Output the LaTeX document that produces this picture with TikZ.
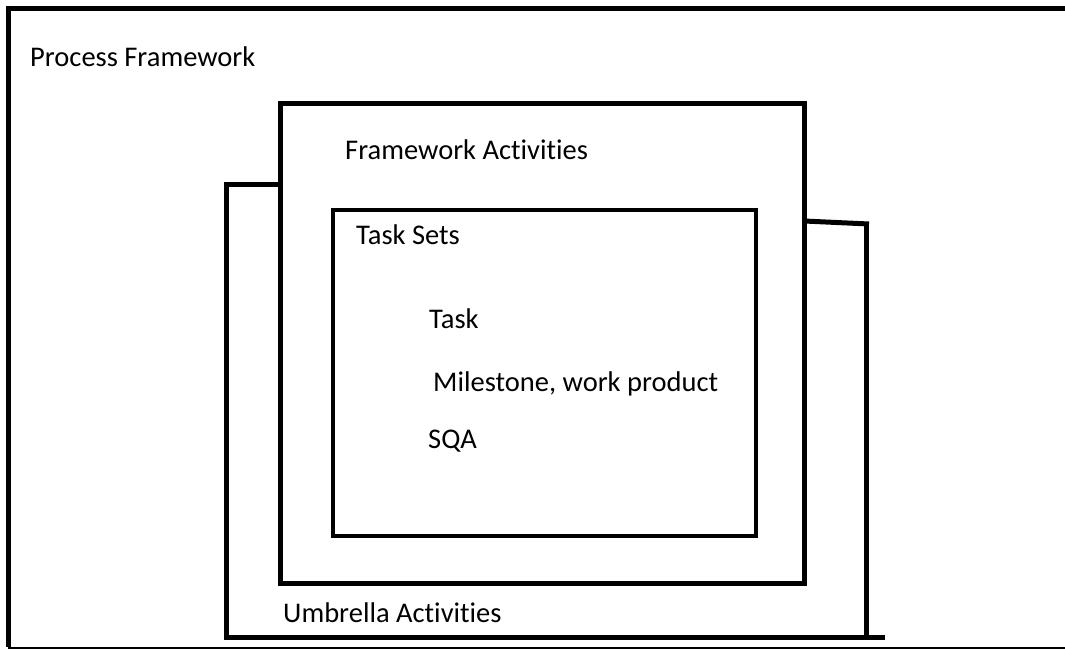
\documentclass[tikz,border=0pt]{standalone}
\usepackage{fontspec}
\setmainfont{Carlito}[Ligatures={NoCommon}]
\begin{document}
\begin{tikzpicture}[x=1pt,y=-1pt,
  thick line/.style={line width=5pt},
  boxed/.style={draw,line width=5pt,inner sep=0pt,outer sep=0pt,anchor=north west},
  lbl/.style={anchor=west,inner sep=0pt,font=\fontsize{28.5}{32}\selectfont}]
\useasboundingbox (0,0) rectangle (1065,650);
% outer frame
\coordinate (oTL) at (8.5,8.5);
\coordinate (oTR) at (1065,8.5);
\coordinate (oBL) at (8.5,648);
\coordinate (oBR) at (1065,648);
\draw[thick line] (oTR) -- (oTL) -- (8.5,647);
\draw[line width=1.5pt] (8,648) -- (oBR);
% framework activities box
\node[boxed,minimum width=524pt,minimum height=479pt] (fa) at (280,104) {};
% task sets box
\node[boxed,line width=4.5pt,minimum width=423pt,minimum height=326pt] (ts) at (333,210) {};
% umbrella bracket
\coordinate (uTL) at (224,184);
\coordinate (uL) at (226,184);
\coordinate (uBL) at (226,637);
\coordinate (uBR) at (885,637);
\coordinate (uR) at (866,225);
\coordinate (uRB) at (866,637);
\coordinate (uTR) at (869,224);
\coordinate (faR) at (804,221);
\draw[thick line] (uTL) -- (fa.west |- uTL);
\draw[thick line] (uL) -- (uBL);
\draw[thick line] (224,637) -- (uBR);
\draw[thick line] (faR) -- (uTR);
\draw[thick line] (uR) -- (uRB);
% labels
\node[lbl] (pf) at (30,57) {Process Framework};
\node[lbl] (fal) at (345,150) {Framework Activities};
\node[lbl] (tsl) at (356,235) {Task Sets};
\node[lbl] (task) at (429,319) {Task};
\node[lbl] (ms) at (433,384) {Milestone, work product};
\node[lbl] (sqa) at (428,441) {SQA};
\node[lbl] (ua) at (283,613) {Umbrella Activities};
\end{tikzpicture}
\end{document}
